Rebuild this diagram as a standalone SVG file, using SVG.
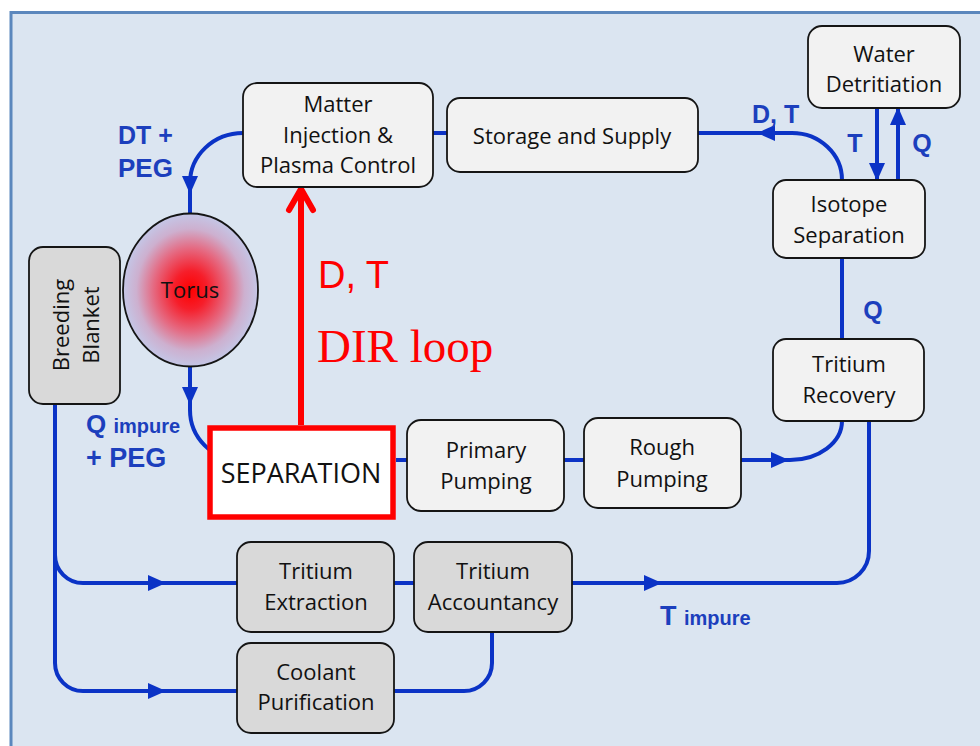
<svg xmlns="http://www.w3.org/2000/svg" width="980" height="746" viewBox="0 0 980 746">
  <defs>
    <style>
      .box { fill: #f2f2f2; stroke: #151515; stroke-width: 1.8; }
      .grey { fill: #d9d9d9; stroke: #151515; stroke-width: 1.8; }
      .lbl { font-family: "Open Sans", "Liberation Sans", sans-serif; font-size: 22px; fill: #111; text-anchor: middle; }
      .flow { fill: none; stroke: #0b33c6; stroke-width: 4; }
      .tag { font-family: "Liberation Sans", Arial, sans-serif; font-weight: bold; fill: #1c3fbd; }
      .red { fill: #ff0000; }
    </style>
    <marker id="arrow" viewBox="0 0 18 16" refX="18" refY="8" markerWidth="18" markerHeight="16" markerUnits="userSpaceOnUse" orient="auto">
      <path d="M0,0 L18,8 L0,16 Z" fill="#0b33c6"/>
    </marker>
    <radialGradient id="plasma" cx="50%" cy="50%" r="50%">
      <stop offset="0" stop-color="#ff0000"/>
      <stop offset="0.25" stop-color="#f61e2a"/>
      <stop offset="0.55" stop-color="#e56a82"/>
      <stop offset="0.8" stop-color="#cdb0cf"/>
      <stop offset="1" stop-color="#c4c6e6"/>
    </radialGradient>
  </defs>

  <!-- page background and panel -->
  <rect x="0" y="0" width="980" height="746" fill="#ffffff"/>
  <rect x="11" y="12.5" width="1000" height="800" fill="#dbe5f1" stroke="#5b87bd" stroke-width="3"/>

  <!-- connectors -->
  <g id="connectors">
    <!-- fuelling into the torus -->
    <path class="flow" d="M243,133 A53 50 0 0 0 190,183 V194" marker-end="url(#arrow)"/>
    <path class="flow" d="M190,190 V213"/>
    <path class="flow" d="M433,133 H447"/>
    <!-- isotope separation back to storage -->
    <path class="flow" d="M842,180 A50 47 0 0 0 792,133 H757" marker-end="url(#arrow)"/>
    <path class="flow" d="M760,133 H698"/>
    <!-- water detritiation exchange -->
    <path class="flow" d="M877,108 V181" marker-end="url(#arrow)"/>
    <path class="flow" d="M898,180 V107" marker-end="url(#arrow)"/>
    <!-- tritium recovery to isotope separation -->
    <path class="flow" d="M842,258 V339"/>
    <!-- exhaust line -->
    <path class="flow" d="M190,366 V405" marker-end="url(#arrow)"/>
    <path class="flow" d="M190,400 V410 A50 50 0 0 0 240,460"/>
    <path class="flow" d="M396,460 H407"/>
    <path class="flow" d="M564,460 H584"/>
    <path class="flow" d="M741,460 H789" marker-end="url(#arrow)"/>
    <path class="flow" d="M785,460 H790 A52 39 0 0 0 842,421"/>
    <!-- breeding blanket branches -->
    <path class="flow" d="M55,404 V663 A28 28 0 0 0 83,691 H166" marker-end="url(#arrow)"/>
    <path class="flow" d="M55,555 A28 28 0 0 0 83,583 H166" marker-end="url(#arrow)"/>
    <path class="flow" d="M162,583 H237"/>
    <path class="flow" d="M162,691 H237"/>
    <path class="flow" d="M394,583 H414"/>
    <path class="flow" d="M572,583 H662" marker-end="url(#arrow)"/>
    <path class="flow" d="M658,583 H837 A32 32 0 0 0 869,551 V421"/>
    <path class="flow" d="M394,691 H464 A28 28 0 0 0 492,663 V632"/>
    <!-- direct internal recycling -->
    <path d="M301,425 V190" fill="none" stroke="#ff0000" stroke-width="6"/>
    <path d="M289,210 L301,189 L313,210" fill="none" stroke="#ff0000" stroke-width="6" stroke-linecap="round" stroke-linejoin="round"/>
  </g>

  <!-- flow labels -->
  <g id="labels">
    <text class="tag" x="118" y="144" font-size="25">DT +</text>
    <text class="tag" x="118" y="177" font-size="26">PEG</text>
    <text class="tag" x="752" y="123" font-size="25">D, T</text>
    <text class="tag" x="855" y="152" font-size="25" text-anchor="middle">T</text>
    <text class="tag" x="922" y="152" font-size="25" text-anchor="middle">Q</text>
    <text class="tag" x="873" y="319" font-size="25" text-anchor="middle">Q</text>
    <text class="tag" x="86" y="433" font-size="26">Q <tspan font-size="20">impure</tspan></text>
    <text class="tag" x="86" y="467" font-size="27">+ PEG</text>
    <text class="tag" x="660" y="625" font-size="27">T <tspan font-size="20">impure</tspan></text>
    <text class="red" x="318" y="288" font-family="Liberation Sans, Arial, sans-serif" font-size="38">D, T</text>
    <text class="red" x="317" y="362" font-family="Liberation Serif, Times New Roman, serif" font-size="47">DIR loop</text>
  </g>

  <!-- nodes -->
  <g id="matter-injection">
    <rect class="box" x="243" y="83" width="190" height="104" rx="14"/>
    <text class="lbl" x="338" y="112">Matter</text>
    <text class="lbl" x="338" y="143">Injection &amp;</text>
    <text class="lbl" x="338" y="173">Plasma Control</text>
  </g>
  <g id="storage-supply">
    <rect class="box" x="447" y="98" width="251" height="74" rx="13"/>
    <text class="lbl" x="572" y="144">Storage and Supply</text>
  </g>
  <g id="water-detritiation">
    <rect class="box" x="808" y="26" width="152" height="82" rx="14"/>
    <text class="lbl" x="884" y="62">Water</text>
    <text class="lbl" x="884" y="92">Detritiation</text>
  </g>
  <g id="isotope-separation">
    <rect class="box" x="773" y="180" width="152" height="78" rx="13"/>
    <text class="lbl" x="849" y="212">Isotope</text>
    <text class="lbl" x="849" y="243">Separation</text>
  </g>
  <g id="tritium-recovery">
    <rect class="box" x="773" y="339" width="151" height="82" rx="13"/>
    <text class="lbl" x="849" y="372">Tritium</text>
    <text class="lbl" x="849" y="403">Recovery</text>
  </g>
  <g id="rough-pumping">
    <rect class="box" x="584" y="418" width="157" height="90" rx="14"/>
    <text class="lbl" x="662" y="455">Rough</text>
    <text class="lbl" x="662" y="487">Pumping</text>
  </g>
  <g id="primary-pumping">
    <rect class="box" x="407" y="420" width="157" height="91" rx="14"/>
    <text class="lbl" x="486" y="458">Primary</text>
    <text class="lbl" x="486" y="489">Pumping</text>
  </g>
  <g id="separation">
    <rect x="210" y="428" width="183" height="89" fill="#ffffff" stroke="#ff0000" stroke-width="5.5"/>
    <text x="301" y="483" font-family="Open Sans, Liberation Sans, sans-serif" font-size="27" fill="#111" text-anchor="middle">SEPARATION</text>
  </g>
  <g id="breeding-blanket">
    <rect class="grey" x="29" y="247" width="91" height="157" rx="14"/>
    <text class="lbl" transform="translate(69,325) rotate(-90)">Breeding</text>
    <text class="lbl" transform="translate(99,325) rotate(-90)">Blanket</text>
  </g>
  <g id="torus">
    <ellipse cx="190.5" cy="290" rx="67.5" ry="76.5" fill="url(#plasma)" stroke="#151515" stroke-width="1.8"/>
    <text class="lbl" x="190" y="298" font-size="21" fill="#1a1a1a">Torus</text>
  </g>
  <g id="tritium-extraction">
    <rect class="grey" x="237" y="542" width="157" height="90" rx="14"/>
    <text class="lbl" x="316" y="579">Tritium</text>
    <text class="lbl" x="316" y="610">Extraction</text>
  </g>
  <g id="tritium-accountancy">
    <rect class="grey" x="414" y="542" width="158" height="90" rx="14"/>
    <text class="lbl" x="493" y="579">Tritium</text>
    <text class="lbl" x="493" y="610">Accountancy</text>
  </g>
  <g id="coolant-purification">
    <rect class="grey" x="237" y="643" width="157" height="90" rx="14"/>
    <text class="lbl" x="316" y="680">Coolant</text>
    <text class="lbl" x="316" y="710">Purification</text>
  </g>
</svg>
